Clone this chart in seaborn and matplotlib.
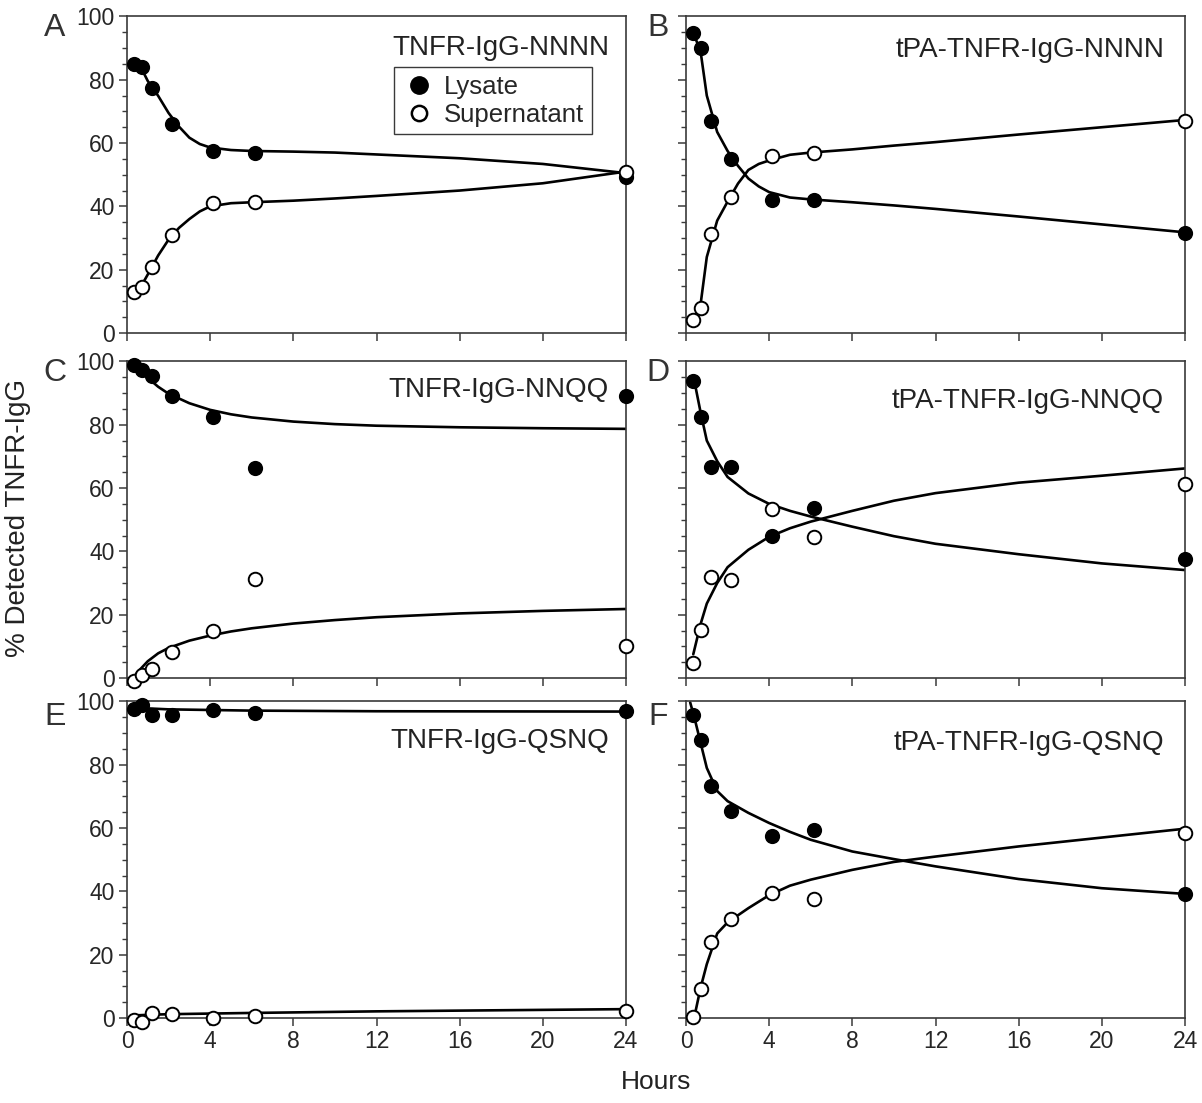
import numpy as np
import pandas as pd
import matplotlib
matplotlib.use("Agg")
import matplotlib.pyplot as plt
from matplotlib.ticker import MultipleLocator
from matplotlib.lines import Line2D
import seaborn as sns

# sampling times of the measured points (hours)
hours = [0.35, 0.7, 1.2, 2.15, 4.15, 6.15, 24]

panel_ids = ["A", "B", "C", "D", "E", "F"]
panel_titles = ["TNFR-IgG-NNNN", "tPA-TNFR-IgG-NNNN",
                "TNFR-IgG-NNQQ", "tPA-TNFR-IgG-NNQQ",
                "TNFR-IgG-QSNQ", "tPA-TNFR-IgG-QSNQ"]

# measured % (filled = lysate, open = supernatant)
lysate = {
    "A": [85, 84, 77.5, 66, 57.5, 57, 49.2],
    "B": [94.8, 90, 67, 55, 42, 42, 31.5],
    "C": [98.9, 97.2, 95.3, 89, 82.4, 66.3, 89],
    "D": [93.7, 82.4, 66.8, 66.8, 44.8, 53.6, 37.6],
    "E": [97.7, 98.9, 95.8, 95.8, 97.4, 96.4, 97],
    "F": [95.8, 87.7, 73.3, 65.5, 57.4, 59.3, 39.2],
}
supernatant = {
    "A": [13, 14.5, 21, 31, 41, 41.5, 50.8],
    "B": [4, 7.8, 31.4, 43, 56, 57, 67],
    "C": [-1, 0.8, 3, 8.2, 15, 31.2, 10.1],
    "D": [4.7, 15.3, 32, 31.1, 53.4, 44.4, 61.2],
    "E": [-0.5, -1.4, 1.6, 1.4, 0, 0.6, 2.2],
    "F": [0.3, 9.1, 23.9, 31.3, 39.4, 37.5, 58.5],
}

# fitted curves
fit_hours = {
    "A": [0.35, 0.7, 1, 1.5, 2, 2.5, 3, 3.5, 4, 5, 6, 8, 10, 12, 16, 20, 24],
    "B": [0.35, 0.7, 1, 1.5, 2, 2.5, 3, 3.5, 4, 5, 6, 8, 10, 12, 16, 20, 24],
    "C": [0.1, 0.5, 1, 1.5, 2, 3, 4, 5, 6, 8, 10, 12, 16, 20, 24],
    "D": [0.35, 0.7, 1, 1.5, 2, 3, 4, 5, 6, 8, 10, 12, 16, 20, 24],
    "E": [0.3, 1, 2, 4, 6, 12, 24],
    "F": [0.2, 0.4, 0.7, 1, 1.5, 2, 3, 4, 5, 6, 8, 10, 12, 16, 20, 24],
}
fit_hours_sup = {
    "A": fit_hours["A"],
    "B": fit_hours["B"],
    "C": [0.3, 0.5, 1, 1.5, 2, 3, 4, 5, 6, 8, 10, 12, 16, 20, 24],
    "D": fit_hours["D"],
    "E": fit_hours["E"],
    "F": [0.4, 0.7, 1, 1.5, 2, 3, 4, 5, 6, 8, 10, 12, 16, 20, 24],
}
fit_lysate = {
    "A": [85.5, 83.5, 79.6, 74.9, 69.5, 65.2, 61.7, 59.7, 58.6, 57.8, 57.5, 57.3, 57, 56.4, 55.2, 53.4, 50.5],
    "B": [94.8, 89, 75, 63.5, 57.5, 52.8, 48.8, 46.3, 44.5, 42.8, 42.2, 41.3, 40.3, 39.2, 36.8, 34.3, 31.8],
    "C": [98.5, 97.2, 94.8, 92, 89.8, 86.8, 84.7, 83.3, 82.3, 81, 80.2, 79.7, 79.2, 78.9, 78.7],
    "D": [95.5, 84, 75, 68.5, 63.5, 58.3, 55, 52.8, 51, 47.8, 44.8, 42.4, 39.1, 36.2, 34.1],
    "E": [98.3, 97.8, 97.5, 97.3, 97.1, 96.9, 96.8],
    "F": [99.7, 95, 87, 79, 71.7, 68.5, 64.8, 61.6, 58.8, 56.3, 52.6, 50.2, 47.9, 43.9, 41, 39.2],
}
fit_supernatant = {
    "A": [13, 15, 18.5, 24.5, 29.5, 33.2, 36, 38.4, 40, 41, 41.3, 41.8, 42.5, 43.3, 45, 47.3, 51],
    "B": [4, 9, 24, 35.5, 41.5, 47.2, 51.5, 53.4, 54.5, 56.3, 57, 58, 59.2, 60.3, 62.7, 65, 67.3],
    "C": [0, 1.8, 5.3, 7.8, 9.5, 11.8, 13.4, 14.7, 15.7, 17.2, 18.3, 19.2, 20.4, 21.2, 21.8],
    "D": [7.5, 17, 23.5, 30, 35, 40.5, 44.6, 47.3, 49.4, 52.8, 56, 58.4, 61.7, 63.9, 66.2],
    "E": [0.8, 1, 1.2, 1.4, 1.6, 2.1, 2.8],
    "F": [0.3, 9.5, 17, 26.7, 30.2, 34.7, 38.8, 41.8, 43.7, 46.8, 49.3, 51, 54.2, 57, 59.8],
}

sns.set_style("ticks")
plt.rcParams["font.family"] = ["Liberation Sans", "DejaVu Sans"]

W, H = 1202, 1103
fig = plt.figure(figsize=(W / 100, H / 100), dpi=100)

col_left = [127 / W, 686 / W]
ax_w = 499 / W
row_bottom = [1 - 333 / H, 1 - 678 / H, 1 - 1018 / H]
ax_h = 0.287

title_y = {"A": 0.94, "B": 0.935, "C": 0.95, "D": 0.915, "E": 0.915, "F": 0.91}
letter_x = [55 / W, 658 / W]
letter_y = [28, 373, 717]

spine_col = "#3a3a3a"

for i, pid in enumerate(panel_ids):
    r, c = divmod(i, 2)
    ax = fig.add_axes([col_left[c], row_bottom[r], ax_w, ax_h])

    fit_l = pd.DataFrame({"Hours": fit_hours[pid], "pct": fit_lysate[pid]})
    fit_s = pd.DataFrame({"Hours": fit_hours_sup[pid], "pct": fit_supernatant[pid]})
    sns.lineplot(data=fit_l, x="Hours", y="pct", ax=ax, color="black", lw=1.9, zorder=2)
    sns.lineplot(data=fit_s, x="Hours", y="pct", ax=ax, color="black", lw=1.9, zorder=2)

    pts = pd.DataFrame({"Hours": hours, "lys": lysate[pid], "sup": supernatant[pid]})
    sns.scatterplot(data=pts, x="Hours", y="lys", ax=ax, s=95, color="black",
                    edgecolor="black", linewidth=1.2, zorder=4, clip_on=False)
    sns.scatterplot(data=pts, x="Hours", y="sup", ax=ax, s=95, color="white",
                    edgecolor="black", linewidth=1.4, zorder=4, clip_on=False)

    ax.set_xlim(0, 24)
    ax.set_ylim(0, 100)
    ax.xaxis.set_major_locator(MultipleLocator(4))
    ax.yaxis.set_major_locator(MultipleLocator(20))
    ax.yaxis.set_minor_locator(MultipleLocator(5))
    ax.tick_params(axis="both", which="major", direction="out", length=6,
                   width=1.1, color=spine_col, labelsize=16.5, pad=3)
    ax.tick_params(axis="y", which="minor", direction="out", length=3.5,
                   width=1.0, color=spine_col)
    for sp in ax.spines.values():
        sp.set_color(spine_col)
        sp.set_linewidth(1.2)
        sp.set_visible(True)

    ax.set_xlabel("")
    ax.set_ylabel("")
    if c == 1:
        ax.tick_params(axis="y", labelleft=False)
    if r < 2:
        ax.tick_params(axis="x", labelbottom=False)

    ax.text(0.966 if c == 0 else 0.958, title_y[pid], panel_titles[i],
            transform=ax.transAxes, ha="right", va="top", fontsize=20,
            color="#222222")
    fig.text(letter_x[c], 1 - letter_y[r] / H, pid, ha="center", va="center",
             fontsize=23, color="#333333")

    if pid == "A":
        handles = [
            Line2D([], [], marker="o", ls="none", markersize=12.5,
                   markerfacecolor="black", markeredgecolor="black"),
            Line2D([], [], marker="o", ls="none", markersize=11,
                   markerfacecolor="white", markeredgecolor="black", markeredgewidth=1.8),
        ]
        ax.legend(handles, ["Lysate", "Supernatant"], loc="upper right",
                  bbox_to_anchor=(0.932, 0.84), fontsize=18.5, frameon=True,
                  fancybox=False, edgecolor=spine_col, framealpha=1,
                  handletextpad=0.35, handlelength=1.3, borderpad=0.3,
                  labelspacing=0.15, borderaxespad=0)

fig.text(18 / W, 1 - 518 / H, "% Detected TNFR-IgG", rotation=90,
         ha="center", va="center", fontsize=20, color="#222222")
fig.text(656 / W, 1 - 1082 / H, "Hours", ha="center", va="center",
         fontsize=19, color="#222222")

fig.savefig("out.png", dpi=100)
